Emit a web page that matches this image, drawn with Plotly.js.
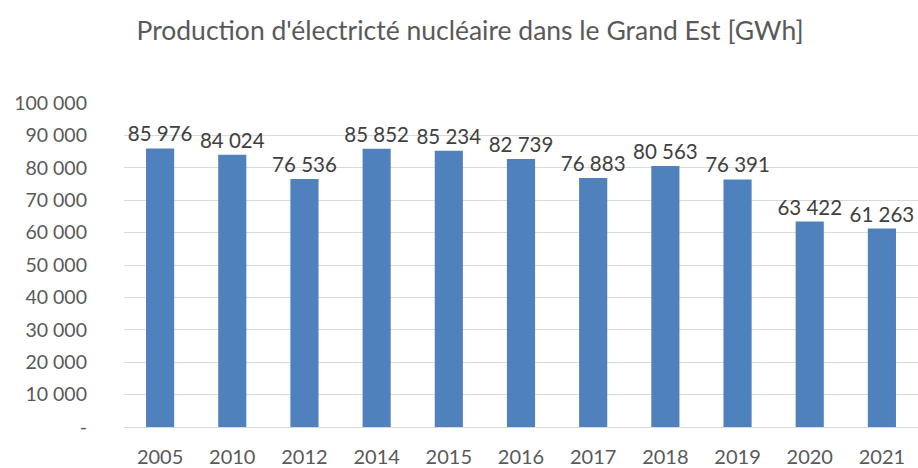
<!DOCTYPE html>
<html>
<head>
<meta charset="utf-8">
<script src="https://cdn.plot.ly/plotly-3.0.1.min.js"></script>
<style>html,body{margin:0;padding:0;background:#fff}#chart{width:918px;height:468px}</style>
</head>
<body>
<div id="chart"></div>
<script>
const years = ['2005','2010','2012','2014','2015','2016','2017','2018','2019','2020','2021'];
const production = [85976, 84024, 76536, 85852, 85234, 82739, 76883, 80563, 76391, 63422, 61263];
const yTickVals = [0,10000,20000,30000,40000,50000,60000,70000,80000,90000,100000];
const yTickText = ['-','10 000','20 000','30 000','40 000','50 000','60 000','70 000','80 000','90 000','100 000'];

const FONT = 'Lato, "Open Sans", sans-serif';
const trace = {
  type: 'bar',
  x: years,
  y: production,
  marker: {color: '#4F81BD'},
  text: production.map(v => v.toLocaleString('en-US').replace(/,/g, ' ')),
  textposition: 'outside',
  constraintext: 'none',
  cliponaxis: false,
  textfont: {family: FONT, size: 20.5, color: '#404040'},
  hoverinfo: 'x+y'
};
const layout = {
  width: 918, height: 468,
  margin: {l: 124, r: 0, t: 103, b: 41},
  paper_bgcolor: '#ffffff', plot_bgcolor: '#ffffff',
  bargap: 0.61,
  showlegend: false,
  title: {text: "Production d'électricté nucléaire dans le Grand Est [GWh]",
          font: {family: FONT, size: 26.5, color: '#595959'},
          x: 0.512, xanchor: 'center', y: 0.935, yanchor: 'middle', xref: 'container', yref: 'container'},
  xaxis: {type: 'category', tickfont: {family: FONT, size: 20, color: '#595959'},
          showgrid: false, showline: false, ticks: '', ticklabelstandoff: 16},
  yaxis: {range: [0, 100000], tickvals: yTickVals, ticktext: yTickText,
          tickfont: {family: FONT, size: 19.5, color: '#595959'},
          showgrid: true, gridcolor: '#d9d9d9', gridwidth: 1, zeroline: true, zerolinecolor: '#d9d9d9', zerolinewidth: 1,
          showline: false, ticks: '', ticklabelstandoff: 36}
};
Plotly.newPlot('chart', [trace], layout, {displayModeBar: false, staticPlot: true});
</script>
</body>
</html>
